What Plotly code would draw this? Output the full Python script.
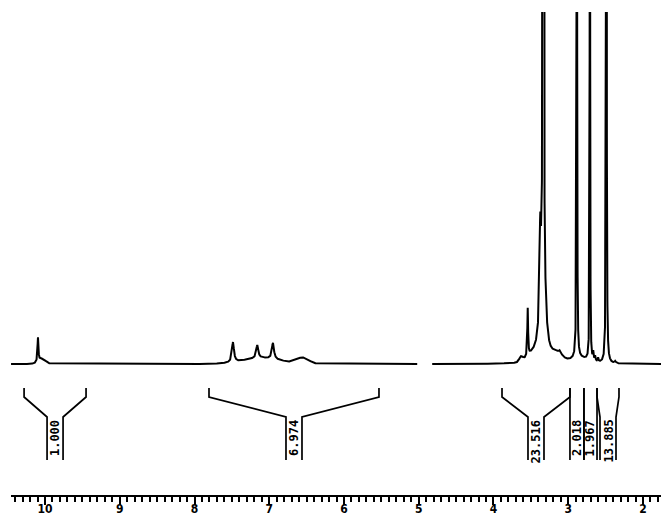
import numpy as np
import plotly.graph_objects as go

# --- chemical-shift window (ppm, plotted high -> low) ---
ppm_left = 10.455
ppm_right = 1.759
blank_from, blank_to = 5.02, 4.82          # pen lifted, no trace here

# --- sharp resonances (Lorentzian): centre ppm, height, half-width ppm ---
line_ppm    = [10.094, 7.485, 7.16, 6.95, 3.542, 3.375, 3.334, 3.34,
               3.11, 2.885, 2.71, 2.665, 2.64, 2.60, 2.49, 2.37]
line_height = [24, 20, 13, 16, 48, 80, 3000, 100,
               3, 1500, 1500, 8, 5, 4, 2000, 2]
line_width  = [0.007, 0.016, 0.016, 0.016, 0.006, 0.010, 0.003, 0.037,
               0.015, 0.0025, 0.002, 0.006, 0.006, 0.006, 0.0025, 0.01]

# --- broad humps (Gaussian): centre ppm, height, sigma ppm ---
hump_ppm    = [10.04, 7.10, 6.55, 3.63, 3.48, 3.15, 2.85]
hump_height = [5, 6, 6, 5, 6, 8, 5]
hump_sigma  = [0.05, 0.25, 0.08, 0.025, 0.07, 0.07, 0.12]

# --- integral regions and their printed values ---
integral_from  = [10.28, 7.806, 3.886, 2.977, 2.79, 2.615]
integral_to    = [9.451, 5.532, 2.977, 2.79, 2.615, 2.321]
integral_value = ["1.000", "6.974", "23.516", "2.018", "1.967", "13.885"]

# --- axis ticks ---
tick_values = [10, 9, 8, 7, 6, 5, 4, 3, 2]
tick_labels = ["10", "9", "8", "7", "6", "5", "4", "3", "2"]

# ---------------------------------------------------------------
W, H = 661, 518
m_l, m_r, m_t, m_b = 11, 0, 12, 23
y_lo, y_hi = -131, 352                     # 1 unit = 1 px vertically
px_per_ppm = (W - m_l - m_r) / (ppm_left - ppm_right)

grid = np.arange(ppm_right, ppm_left, 0.0005)
spec = np.zeros_like(grid)
for c, h, w in zip(line_ppm, line_height, line_width):
    spec += h * w**2 / ((grid - c) ** 2 + w**2)
for c, h, s in zip(hump_ppm, hump_height, hump_sigma):
    spec += h * np.exp(-((grid - c) ** 2) / (2 * s**2))
spec = spec.astype(object)
spec[(grid < blank_from) & (grid > blank_to)] = None

fig = go.Figure()
fig.add_trace(go.Scatter(x=grid, y=spec, mode="lines",
                         line=dict(color="black", width=2),
                         connectgaps=False, hoverinfo="skip"))

# integral brackets: end ticks, slanted arms, narrow stem holding the value
top, knee, neck, bottom = -24, -33, -53, -96
stem_px = 8
for a, b, val in zip(integral_from, integral_to, integral_value):
    mid = (a + b) / 2
    hw = min(stem_px / px_per_ppm, abs(a - b) / 2)
    for end, side in ((a, +1), (b, -1)):
        fig.add_trace(go.Scatter(
            x=[end, end, mid + side * hw, mid + side * hw],
            y=[top, knee, neck, bottom],
            mode="lines", line=dict(color="black", width=1.7),
            hoverinfo="skip"))
    fig.add_annotation(x=mid, y=neck - 1, text=val, showarrow=False,
                       textangle=-90, xanchor="center", yanchor="top",
                       font=dict(family="DejaVu Sans Mono", size=12,
                                 color="black", weight="bold"))

fig.update_layout(
    width=W, height=H, template="none", showlegend=False,
    paper_bgcolor="white", plot_bgcolor="white",
    margin=dict(l=m_l, r=m_r, t=m_t, b=m_b, pad=0),
    xaxis=dict(range=[ppm_left, ppm_right], showgrid=False, zeroline=False,
               showline=True, linecolor="black", linewidth=2,
               ticks="outside", ticklen=8, tickwidth=2, tickcolor="black",
               tickvals=tick_values, ticktext=tick_labels,
               ticklabelstandoff=-6,
               minor=dict(dtick=0.1, tick0=0, ticks="outside", ticklen=5,
                          tickwidth=1.5, tickcolor="black", showgrid=False),
               tickfont=dict(family="Liberation Sans Narrow, DejaVu Sans Condensed, Liberation Sans",
                             size=12, color="black", weight="bold"),
               automargin=False, fixedrange=True),
    yaxis=dict(range=[y_lo, y_hi], visible=False, showgrid=False,
               zeroline=False, automargin=False, fixedrange=True),
)

fig.write_html("out.html")
